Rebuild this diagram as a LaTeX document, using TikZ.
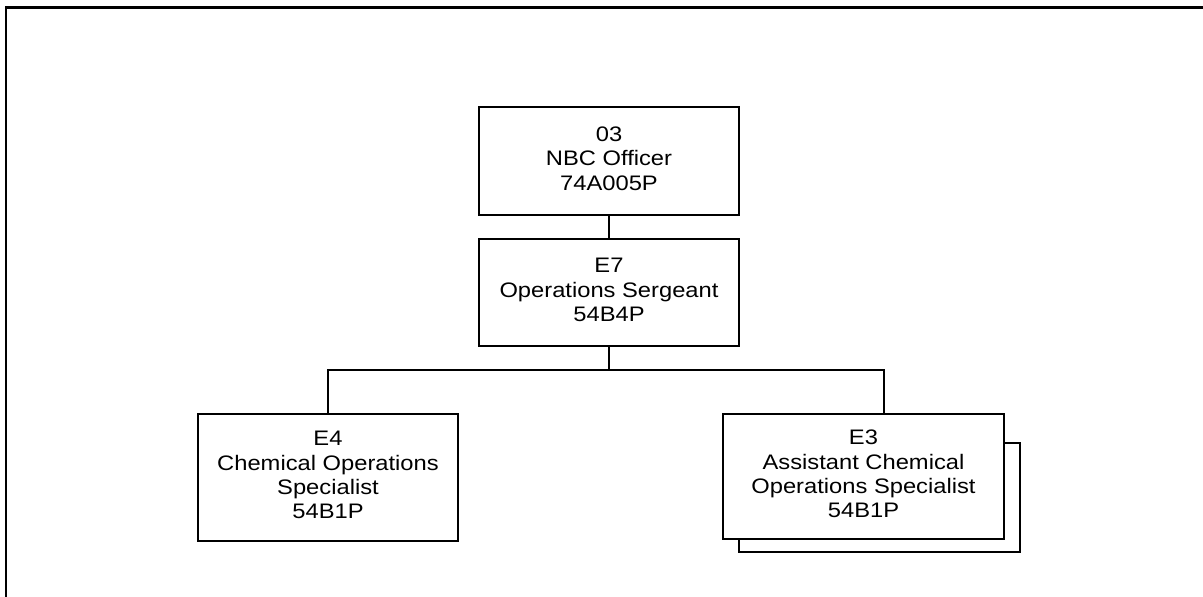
\documentclass[tikz,border=0pt]{standalone}
\usepackage{fontspec}
\setmainfont{Liberation Sans}
\usepackage{tikz}
\newcommand{\postlines}[1]{\scalebox{1.13}[1]{\begin{tabular}{@{}c@{}}#1\end{tabular}}}
\tikzset{
  post/.style={draw, line width=1.2pt, fill=white, inner sep=0pt,
    font=\fontsize{21}{24.4}\selectfont},
  link/.style={line width=1.2pt},
}

\begin{document}
\begin{tikzpicture}[x=1pt,y=-1pt]
  \useasboundingbox (0,0) rectangle (1203,597);
  \draw[line width=2.6pt] (6,597) -- (6,7.5) -- (1203,7.5);
  % posts
  \node[post, minimum width=260pt, minimum height=108pt] (nbc) at (609,161) {\postlines{03\\NBC Officer\\74A005P}};
  \node[post, minimum width=260pt, minimum height=107pt] (e7) at (609,292.5) {\postlines{E7\\Operations Sergeant\\54B4P}};
  \node[post, minimum width=260pt, minimum height=127pt] (e4) at (328,477.5) {\postlines{E4\\Chemical Operations\\Specialist\\54B1P}};
  \node[post, minimum width=281pt, minimum height=109pt] (e3back) at (879.5,497.5) {};
  \node[post, minimum width=281pt, minimum height=125pt] (e3) at (863.5,476.5) {\postlines{E3\\Assistant Chemical\\Operations Specialist\\54B1P}};
  % lines
  \coordinate (bus) at (609,370);
  \coordinate (e3in) at ([xshift=20.5pt]e3.north);
  \draw[link] (nbc) -- (e7);
  \draw[link] (e7.south) -- (bus);
  \draw[link] (e4.north) |- (bus) -| (e3in);
\end{tikzpicture}
\end{document}
